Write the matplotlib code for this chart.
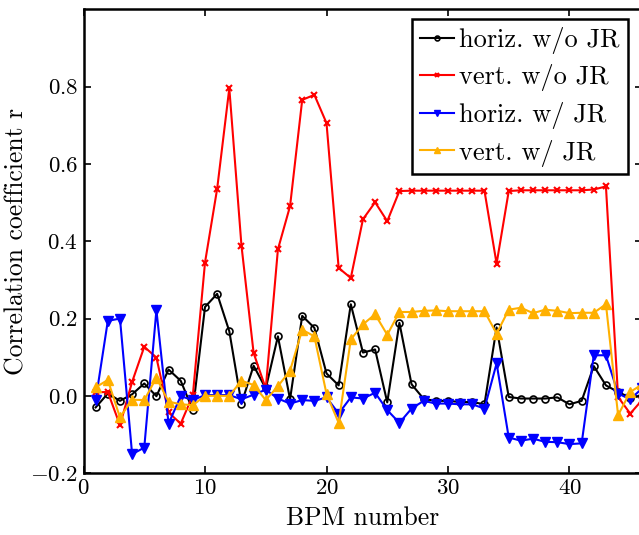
import matplotlib
matplotlib.use("Agg")
import matplotlib.pyplot as plt

plt.rcParams['font.family'] = 'serif'
plt.rcParams['font.serif'] = ['cmr10']
plt.rcParams['mathtext.fontset'] = 'cm'
plt.rcParams['axes.formatter.use_mathtext'] = True

bpm = list(range(1, 47))

horiz_wo = [-0.030, 0.006, -0.013, 0.004, 0.032, -0.001, 0.068, 0.039, -0.037, 0.230,
            0.264, 0.167, -0.020, 0.078, 0.019, 0.154, -0.009, 0.207, 0.176, 0.058,
            0.027, 0.237, 0.112, 0.120, -0.017, 0.189, 0.030, -0.008, -0.013, -0.013,
            -0.016, -0.016, -0.022, 0.177, -0.003, -0.007, -0.007, -0.007, -0.004, -0.022,
            -0.013, 0.077, 0.027, 0.010, -0.005, 0.000]
vert_wo = [0.009, 0.010, -0.076, 0.036, 0.127, 0.099, -0.043, -0.072, 0.002, 0.345,
           0.536, 0.796, 0.389, 0.111, 0.019, 0.379, 0.491, 0.766, 0.779, 0.706,
           0.331, 0.305, 0.457, 0.501, 0.452, 0.530, 0.531, 0.531, 0.531, 0.531,
           0.531, 0.531, 0.531, 0.342, 0.530, 0.532, 0.532, 0.532, 0.532, 0.532,
           0.532, 0.534, 0.542, -0.003, -0.046, -0.010]
horiz_w = [-0.011, 0.194, 0.200, -0.151, -0.134, 0.222, -0.072, -0.001, -0.011, 0.002,
           0.002, 0.002, -0.009, 0.003, 0.016, -0.007, -0.020, -0.011, -0.013, -0.004,
           -0.046, -0.004, -0.007, 0.008, -0.037, -0.070, -0.033, -0.013, -0.020, -0.020,
           -0.022, -0.022, -0.033, 0.084, -0.108, -0.116, -0.111, -0.119, -0.120, -0.125,
           -0.123, 0.105, 0.105, 0.006, -0.009, 0.020]
vert_w = [0.022, 0.041, -0.056, -0.010, -0.011, 0.047, -0.015, -0.022, -0.024, 0.000,
          0.000, 0.000, 0.039, 0.028, -0.011, 0.025, 0.065, 0.171, 0.154, 0.005,
          -0.070, 0.146, 0.185, 0.211, 0.158, 0.217, 0.217, 0.220, 0.221, 0.219,
          0.219, 0.219, 0.219, 0.161, 0.223, 0.228, 0.214, 0.223, 0.220, 0.214,
          0.215, 0.215, 0.237, -0.050, 0.010, 0.030]

fig = plt.figure(figsize=(6.39, 5.35), dpi=100)
ax = fig.add_axes([0.1307, 0.1157, 0.8746, 0.8666])

lw = 1.5
ax.plot(bpm, horiz_wo, '-o', color='black', lw=lw, ms=5, mfc='none', mew=1.2,
        label='horiz. w/o JR')
ax.plot(bpm, vert_wo, '-x', color='#FF0000', lw=lw, ms=5, mew=1.5,
        label='vert. w/o JR')
ax.plot(bpm, horiz_w, '-v', color='#0000FF', lw=lw, ms=7, label='horiz. w/ JR')
ax.plot(bpm, vert_w, '-^', color='#FFB000', lw=lw, ms=7, label='vert. w/ JR')

ax.set_xlim(0, 46)
ax.set_ylim(-0.2, 1.0)
ax.set_xticks([0, 10, 20, 30, 40])
ax.set_yticks([-0.2, 0, 0.2, 0.4, 0.6, 0.8])
ax.tick_params(direction='in', length=5, width=1.2, top=True, right=True,
               labelsize=16.5, pad=4)
for s in ax.spines.values():
    s.set_linewidth(1.8)

ax.set_xlabel('BPM number', fontsize=18.5, labelpad=6)
ax.set_ylabel('Correlation coefficient r', fontsize=18.5, labelpad=1)

leg = ax.legend(loc='upper right', bbox_to_anchor=(0.9737, 0.9795),
                borderaxespad=0, fontsize=19,
                handlelength=1.3, handletextpad=0.2, borderpad=0.3,
                labelspacing=0.4, markerscale=0.7, fancybox=False,
                framealpha=1, edgecolor='black')
leg.get_frame().set_linewidth(1.8)

fig.savefig('out.png', dpi=100)
